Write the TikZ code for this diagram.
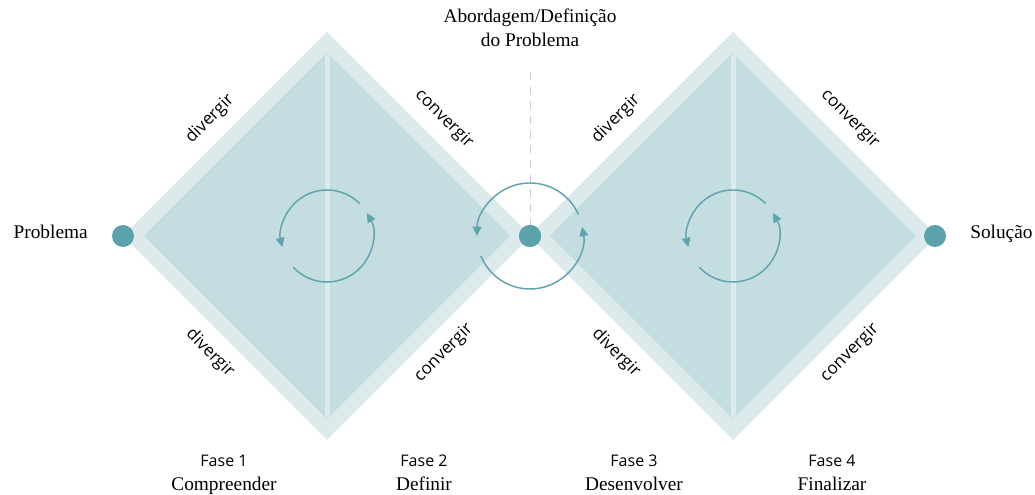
\documentclass[tikz,border=0pt]{standalone}
\usepackage{fontspec}
\setmainfont{Liberation Serif}
\setsansfont{Open Sans}
\usepackage{tikz}
\usetikzlibrary{arrows.meta}
\usetikzlibrary{calc}

\definecolor{bandc}{HTML}{DCEAEC}
\definecolor{fillc}{HTML}{C4DDE1}
\definecolor{dotc}{HTML}{5CA2AC}
\definecolor{spinc}{HTML}{5FA4AE}
\definecolor{dashc}{HTML}{BCD2D5}

\begin{document}
\begin{tikzpicture}[x=0.75pt, y=0.75pt,
    dot/.style={circle, fill=dotc, minimum size=16.5pt, inner sep=0pt},
    edgelabel/.style={font=\sffamily\fontsize{12.8}{14}\selectfont, text=black, inner sep=0pt},
    phase/.style={font=\sffamily\fontsize{12}{14}\selectfont, text=black, anchor=base, inner sep=0pt},
    title/.style={font=\fontsize{14.5}{17}\selectfont, anchor=base, inner sep=0pt},
    spin/.style={spinc, line width=1.1pt, -{Triangle[length=7pt, width=6.5pt]}}]
    \useasboundingbox (0,0) rectangle (1035,495);

    % Centres of the two diamonds
    \coordinate (L) at (327,259);
    \coordinate (R) at (733,259);

    % Outer bands
    \foreach \c in {L,R}{
        \fill[bandc] (\c) ++(-204,0) -- ++(204,204) -- ++(204,-204) -- ++(-204,-204) -- cycle;
    }

    % Inner diamonds, labels and cycles
    \foreach \c in {L,R}{
        \fill[fillc] (\c) ++(-183,0) -- ++(183,183) -- ++(183,-183) -- ++(-183,-183) -- cycle;
        \draw[bandc, line width=3.75pt] (\c) ++(0,181) -- ++(0,-362);
        \node[edgelabel, rotate=45] (div-\c-top) at ($(\c)+(-117,117)$) {divergir};
        \node[edgelabel, rotate=-45] (con-\c-top) at ($(\c)+(117,117)$) {convergir};
        \node[edgelabel, rotate=-45] (div-\c-bot) at ($(\c)+(-117,-117)$) {divergir};
        \node[edgelabel, rotate=45] (con-\c-bot) at ($(\c)+(117,-117)$) {convergir};
        \draw[spin] ($(\c)+(45:46)$) arc[start angle=45, end angle=194, radius=46];
        \draw[spin] ($(\c)+(223:46)$) arc[start angle=223, end angle=390, radius=46];
    }

    % Middle: dashed line and cycle
    \coordinate (dashtop) at (530,423);
    \node[dot] (mid) at (530,259) {};
    \draw[dashc, line width=0.75pt, dash pattern=on 6pt off 5pt] (dashtop) -- (mid);
    \draw[spin] ($(mid)+(24:53)$) arc[start angle=24, end angle=180, radius=53];
    \draw[spin] ($(mid)+(202:53)$) arc[start angle=202, end angle=370, radius=53];
    \node[dot] at (mid) {};

    % End points
    \node[dot] (start) at (123,259) {};
    \node[dot] (finish) at (935,259) {};
    \node[title, anchor=base east] (prob) at (88,256) {Problema};
    \node[title, anchor=base west] (sol) at (970,256) {Solução};

    % Heading
    \node[title] (head1) at (530,472) {Abordagem/Definição};
    \node[title] (head2) at (530,448) {do Problema};

    % Phases
    \foreach \x/\n/\w in {224/1/Compreender, 424/2/Definir, 634/3/Desenvolver, 832/4/Finalizar}{
        \node[phase] (fase\n) at (\x,28) {Fase \n};
        \node[title] (name\n) at (\x,4) {\w};
    }
\end{tikzpicture}
\end{document}
